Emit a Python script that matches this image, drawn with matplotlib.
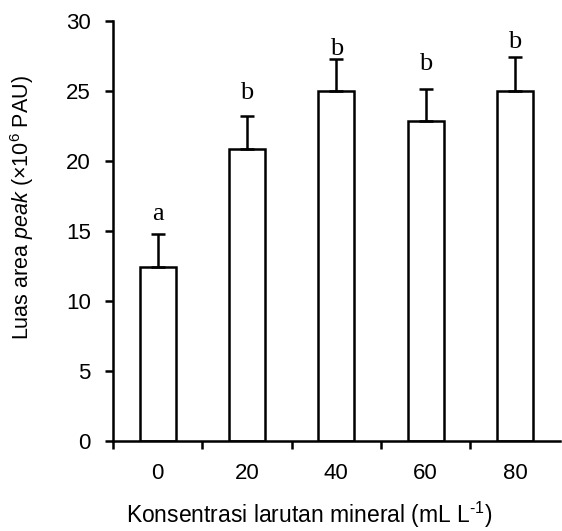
import matplotlib.pyplot as plt

plt.rcParams['font.family'] = ['Liberation Sans', 'DejaVu Sans']
plt.rcParams['mathtext.fontset'] = 'custom'
plt.rcParams['mathtext.rm'] = 'Liberation Sans'
plt.rcParams['mathtext.it'] = 'Liberation Sans:italic'

categories = ['0', '20', '40', '60', '80']
means = [12.45, 20.85, 25.0, 22.85, 25.0]
errors = [2.35, 2.35, 2.3, 2.3, 2.4]
letters = ['a', 'b', 'b', 'b', 'b']
letter_y = [15.8, 24.4, 27.6, 26.5, 28.1]  # baseline of each letter

fig = plt.figure(figsize=(5.62, 5.31), dpi=100)
ax = fig.add_axes([0.201, 0.1695, 0.795, 0.791])

x = range(len(categories))
ax.bar(x, means, width=0.4, color='white', edgecolor='black', linewidth=1.8)
ax.errorbar(x, means, yerr=[[0] * len(errors), errors], fmt='none',
            ecolor='black', elinewidth=1.8, capsize=5, capthick=1.8)

for i in x:
    ax.text(i, letter_y[i], letters[i], ha='center', va='baseline',
            fontsize=19, family='Liberation Serif')

ax.set_xlim(-0.5, 4.5)
ax.set_ylim(0, 30)
ax.set_yticks(range(0, 31, 5))
ax.set_xticks(x)
ax.set_xticklabels(categories)
ax.set_xticks([i - 0.5 for i in range(len(categories))], minor=True)
ax.tick_params(axis='x', which='major', length=0, pad=16, labelsize=16)
ax.tick_params(axis='x', which='minor', length=6, width=1.8, direction='out')
ax.tick_params(axis='y', length=6, width=1.8, direction='out', labelsize=16, pad=10)

ax.spines['top'].set_visible(False)
ax.spines['right'].set_visible(False)
ax.spines['left'].set_linewidth(1.8)
ax.spines['bottom'].set_linewidth(1.8)

fig.text(22 / 562, 1 - 208 / 531, 'Luas area $\\mathit{peak}$ (×10$^{6}$ PAU)',
         rotation=90, ha='center', va='center', fontsize=15.5)
fig.text(309 / 562, 1 - 523 / 531, 'Konsentrasi larutan mineral (mL L$^{\\text{-1}}$)',
         ha='center', va='baseline', fontsize=16.5)

fig.savefig('out.png', dpi=100)
